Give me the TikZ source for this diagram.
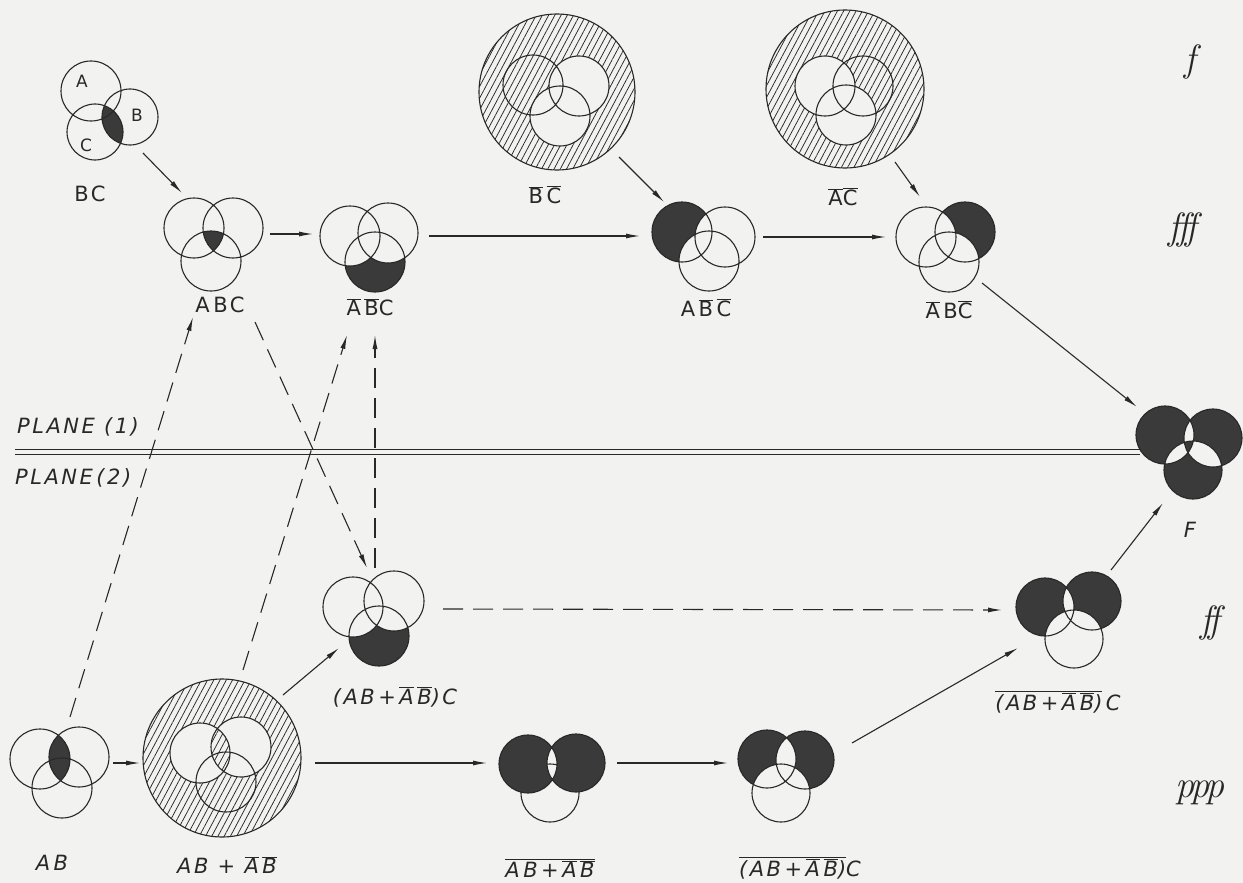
\documentclass[tikz,border=0pt]{standalone}
\usepackage{fontspec}
\newfontfamily\handfont[LetterSpace=12]{DejaVu Sans}
\usetikzlibrary{arrows.meta,patterns.meta}
\definecolor{paper}{RGB}{242,242,240}
\definecolor{ink}{RGB}{40,40,40}
\definecolor{dkc}{RGB}{58,58,58}
\newcommand\ob[1]{$\overline{\mbox{#1}}$}
\newcommand\vset[4]{\coordinate (#1A) at (#2); \coordinate (#1B) at (#3); \coordinate (#1C) at (#4);}
\newcommand\vdraw[2][30pt]{\draw[venn] (#2A) circle[radius=#1] (#2B) circle[radius=#1] (#2C) circle[radius=#1];}
\begin{document}
\begin{tikzpicture}[x=1pt,y=-1pt,
  venn/.style={draw=ink,line width=1.1pt},
  dk/.style={fill=dkc},
  pp/.style={fill=paper},
  hatch/.style={pattern={Lines[angle=62,distance=5.5pt,line width=0.75pt]},pattern color=ink},
  arr/.style={draw=ink,line width=1.1pt,-{Latex[length=14pt,width=5pt]}},
  darr/.style={arr,dash pattern=on 20pt off 10pt},
  lab/.style={font=\handfont\fontsize{21}{25}\selectfont,text=ink,inner sep=0pt},
  ilab/.style={lab,font=\handfont\itshape\fontsize{21}{25}\selectfont},
  slab/.style={lab,font=\handfont\fontsize{17}{20}\selectfont},
  dyn/.style={font=\rmfamily\itshape\fontsize{38}{42}\selectfont,text=ink,inner sep=0pt}]
\fill[paper] (0,0) rectangle (1243,883);
\useasboundingbox (0,0) rectangle (1243,883);

% ---------- coordinates of the Venn figures
\vset{bc}{91,91}{130,117}{95,132}
\vset{abc}{194,228}{233,228}{211,261}
\vset{nnc}{350,236}{388,233}{375,262}
\vset{ann}{682,232}{725,237}{709,261}
\vset{nbn}{926,237}{965,232}{949,262}
\coordinate (hbco) at (557,92); \vset{hbc}{533,85}{579,86}{560,116}
\coordinate (haco) at (845,89); \vset{hac}{825,86}{863,86}{846,115}
\vset{F}{1165,435}{1213,438}{1193,470}
\vset{m}{353,607}{394,601}{379,636}
\vset{ff}{1045,607}{1092,601}{1074,639}
\vset{ab}{40,759}{79,757}{62,788}
\coordinate (habo) at (222,758); \vset{hab}{200,753}{241,747}{226,782}
\vset{xa}{528,764}{576,763}{550,793}
\vset{xb}{767,759}{805,760}{781,793}

% ---------- double line
\coordinate (pl1) at (15,449); \coordinate (pr1) at (1140,449);
\coordinate (pl2) at (15,454); \coordinate (pr2) at (1140,454);
\draw[ink,line width=1pt] (pl1) -- (pr1) (pl2) -- (pr2);
\node[ilab,anchor=west] (p1) at (17,427) {PLANE\ (1)};
\node[ilab,anchor=west] (p2) at (15,478) {PLANE\,(2)};

% ---------- BC
\begin{scope}\clip (bcB) circle[radius=28pt]; \fill[dk] (bcC) circle[radius=28pt];\end{scope}
\draw[venn] (bcA) circle[radius=30pt] (bcB) circle[radius=28pt] (bcC) circle[radius=28pt];
\node[slab] (la) at (82,81) {A};
\node[slab] (lb) at (137,115) {B};
\node[slab] (lc) at (86,145) {C};
\node[lab] (lBC) at (90,194) {BC};

% ---------- ABC
\begin{scope}\clip (abcA) circle[radius=30pt]; \clip (abcB) circle[radius=30pt]; \fill[dk] (abcC) circle[radius=30pt];\end{scope}
\vdraw{abc}
\node[lab] (lABC) at (220,305) {A\,BC};

% ---------- not A not B C
\fill[dk] (nncC) circle[radius=30pt];
\begin{scope}\clip (nncC) circle[radius=30pt]; \fill[pp] (nncA) circle[radius=30pt] (nncB) circle[radius=30pt];\end{scope}
\vdraw{nnc}
\node[lab] (lnnc) at (370,307) {\ob{A}\,\ob{B}C};

% ---------- A not B not C
\fill[dk] (annA) circle[radius=30pt];
\begin{scope}\clip (annA) circle[radius=30pt]; \fill[pp] (annB) circle[radius=30pt] (annC) circle[radius=30pt];\end{scope}
\vdraw{ann}
\node[lab] (lann) at (706,308) {A\,\ob{B}\,\ob{C}};

% ---------- not A B not C
\fill[dk] (nbnB) circle[radius=30pt];
\begin{scope}\clip (nbnB) circle[radius=30pt]; \fill[pp] (nbnA) circle[radius=30pt] (nbnC) circle[radius=30pt];\end{scope}
\vdraw{nbn}
\node[lab] (lnbn) at (949,310) {\ob{A}\,B\ob{C}};

% ---------- hatched not B not C
\fill[hatch] (hbco) circle[radius=78pt];
\fill[pp] (hbcB) circle[radius=30pt] (hbcC) circle[radius=30pt];
\draw[venn] (hbco) circle[radius=78pt];
\vdraw{hbc}
\node[lab] (lhbc) at (545,195) {\ob{B}\,\ob{C}};

% ---------- hatched not A not C
\fill[hatch] (haco) circle[radius=79pt];
\fill[pp] (hacA) circle[radius=30pt] (hacC) circle[radius=30pt];
\draw[venn] (haco) circle[radius=79pt];
\vdraw{hac}
\node[lab] (lhac) at (843,197) {\ob{A}\ob{C}};

% ---------- F
\fill[dk] (FA) circle[radius=29pt] (FB) circle[radius=29pt] (FC) circle[radius=29pt];
\begin{scope}\clip (FA) circle[radius=29pt]; \fill[pp] (FB) circle[radius=29pt] (FC) circle[radius=29pt];\end{scope}
\begin{scope}\clip (FB) circle[radius=29pt]; \fill[pp] (FC) circle[radius=29pt];\end{scope}
\begin{scope}\clip (FA) circle[radius=29pt]; \clip (FB) circle[radius=29pt]; \fill[dk] (FC) circle[radius=29pt];\end{scope}
\vdraw[29pt]{F}
\node[ilab] (lF) at (1190,530) {F};

% ---------- (AB + not A not B) C
\fill[dk] (mC) circle[radius=30pt];
\begin{scope}\clip (mC) circle[radius=30pt]; \fill[pp] (mA) circle[radius=30pt] (mB) circle[radius=30pt];\end{scope}
\vdraw{m}
\node[ilab] (lm) at (395,697) {(AB\,+\,\ob{A}\,\ob{B})C};

% ---------- ff figure
\fill[dk] (ffA) circle[radius=29pt] (ffB) circle[radius=29pt];
\begin{scope}\clip (ffA) circle[radius=29pt]; \fill[pp] (ffB) circle[radius=29pt];\end{scope}
\fill[pp] (ffC) circle[radius=29pt];
\vdraw[29pt]{ff}
\node[ilab] (lff) at (1058,702) {\ob{(AB\,+\,\ob{A}\,\ob{B})}\,C};

% ---------- AB
\begin{scope}\clip (abA) circle[radius=30pt]; \fill[dk] (abB) circle[radius=30pt];\end{scope}
\vdraw{ab}
\node[ilab] (lab1) at (52,863) {A\,B};

% ---------- hatched AB + not A not B
\fill[hatch] (habo) circle[radius=79pt];
\fill[pp] (habA) circle[radius=30pt] (habB) circle[radius=30pt];
\begin{scope}\clip (habA) circle[radius=30pt]; \fill[hatch] (habB) circle[radius=30pt];\end{scope}
\draw[venn] (habo) circle[radius=79pt];
\vdraw{hab}
\node[ilab] (lhab) at (227,865) {AB\ +\ \ob{A}\,\ob{B}};

% ---------- not(AB + not A not B)
\draw[venn] (xaC) circle[radius=29pt];
\fill[dk] (xaA) circle[radius=29pt] (xaB) circle[radius=29pt];
\begin{scope}\clip (xaA) circle[radius=29pt]; \fill[pp] (xaB) circle[radius=29pt];\end{scope}
\begin{scope}\clip (xaA) circle[radius=29pt]; \clip (xaB) circle[radius=29pt]; \draw[venn] (xaC) circle[radius=29pt];\end{scope}
\draw[venn] (xaA) circle[radius=29pt] (xaB) circle[radius=29pt];
\node[ilab] (lxa) at (550,868) {\ob{A\,B\,+\,\ob{A}\,\ob{B}}};

% ---------- not(AB + not A not B) C
\fill[dk] (xbA) circle[radius=29pt] (xbB) circle[radius=29pt];
\begin{scope}\clip (xbA) circle[radius=29pt]; \fill[pp] (xbB) circle[radius=29pt];\end{scope}
\fill[pp] (xbC) circle[radius=29pt];
\vdraw[29pt]{xb}
\node[ilab] (lxb) at (800,868) {\ob{(AB\,+\,\ob{A}\,\ob{B})}C};

% ---------- dynamics
\node[dyn] (d1) at (1190,62) {f};
\node[dyn] (d2) at (1183,230) {f\kern-3pt f\kern-3pt f};
\node[dyn] (d3) at (1210,623) {f\kern-3pt f};
\node[dyn] (d4) at (1200,793) {p\kern-4pt p\kern-4pt p};

% ---------- connectors
\coordinate (s1) at (143,153); \coordinate (e1) at (182,193);
\coordinate (s2) at (270,234); \coordinate (e2) at (313,234);
\coordinate (s3) at (429,236); \coordinate (e3) at (640,236);
\coordinate (s4) at (619,157); \coordinate (e4) at (664,202);
\coordinate (s5) at (763,237); \coordinate (e5) at (886,237);
\coordinate (s6) at (895,162); \coordinate (e6) at (920,197);
\coordinate (s7) at (982,283); \coordinate (e7) at (1137,407);
\coordinate (s8) at (113,763); \coordinate (e8) at (140,763);
\coordinate (s9) at (315,763); \coordinate (e9) at (487,763);
\coordinate (s10) at (283,695); \coordinate (e10) at (339,648);
\coordinate (s11) at (617,763); \coordinate (e11) at (728,763);
\coordinate (s12) at (852,743); \coordinate (e12) at (1018,648);
\coordinate (s13) at (1111,570); \coordinate (e13) at (1163,503);
\draw[arr] (s1) -- (e1);
\draw[arr] (s2) -- (e2);
\draw[arr] (s3) -- (e3);
\draw[arr] (s4) -- (e4);
\draw[arr] (s5) -- (e5);
\draw[arr] (s6) -- (e6);
\draw[arr] (s7) -- (e7);
\draw[arr] (s8) -- (e8);
\draw[arr] (s9) -- (e9);
\draw[arr] (s10) -- (e10);
\draw[arr] (s11) -- (e11);
\draw[arr] (s12) -- (e12);
\draw[arr] (s13) -- (e13);

\coordinate (t1) at (70,717); \coordinate (u1) at (193,317);
\coordinate (t2) at (243,670); \coordinate (u2) at (347,335);
\coordinate (t3) at (255,322); \coordinate (u3) at (367,568);
\coordinate (t4) at (375,568); \coordinate (u4) at (375,335);
\coordinate (t5) at (443,609); \coordinate (u5) at (1002,610);
\draw[darr] (t1) -- (u1);
\draw[darr] (t2) -- (u2);
\draw[darr] (t3) -- (u3);
\draw[darr] (t4) -- (u4);
\draw[darr] (t5) -- (u5);
\end{tikzpicture}
\end{document}
